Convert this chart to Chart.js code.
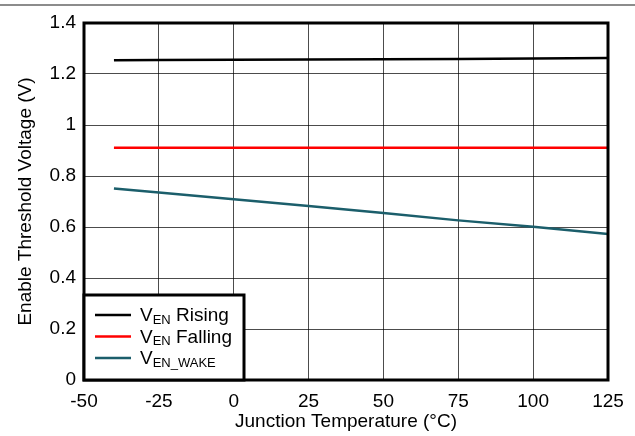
<!DOCTYPE html>
<html>
<head>
<meta charset="utf-8">
<script src="https://cdn.jsdelivr.net/npm/chart.js@4.4.1/dist/chart.umd.min.js"></script>
<style>
  html, body { margin: 0; padding: 0; background: #fff; }
  #wrap { position: relative; width: 635px; height: 436px; }
  #topline { position: absolute; left: 0; top: 4px; width: 635px; height: 2px; background: #8c8c8c; }
  canvas { display: block; }
</style>
</head>
<body>
<div id="wrap">
  <div id="topline"></div>
  <canvas id="chart" width="635" height="436"></canvas>
</div>
<script>
// temperatures (°C) and measured thresholds (V)
const temps = [-40, -25, 0, 25, 50, 75, 100, 125];
const rising = [1.254, 1.255, 1.256, 1.257, 1.258, 1.259, 1.261, 1.263];
const falling = [0.911, 0.911, 0.911, 0.911, 0.911, 0.911, 0.911, 0.911];
const wake = [0.751, 0.735, 0.709, 0.682, 0.655, 0.626, 0.601, 0.573];

const xTicks = ['-50', '-25', '0', '25', '50', '75', '100', '125'];
const yTicks = ['0', '0.2', '0.4', '0.6', '0.8', '1', '1.2', '1.4'];

const seriesColors = ['#000000', '#ff0000', '#1b5e6b'];
const legendMain = ['V', 'V', 'V'];
const legendSub = ['EN', 'EN', 'EN_WAKE'];
const legendRest = [' Rising', ' Falling', ''];

const FONT = '"Liberation Sans", Arial, sans-serif';

function pts(values) {
    return temps.map((t, i) => ({ x: t, y: values[i] }));
}

// frame round the plot + legend box in the lower left corner
const framePlugin = {
    id: 'frame',
    afterDraw(chart) {
        const ctx = chart.ctx;
        const a = chart.chartArea;
        ctx.save();
        ctx.strokeStyle = '#000';
        ctx.lineWidth = 3;
        ctx.strokeRect(a.left, a.top, a.right - a.left, a.bottom - a.top);

        const bw = 160, bh = 85;
        const bx = a.left, by = a.bottom - bh;
        ctx.fillStyle = '#fff';
        ctx.fillRect(bx, by, bw, bh);
        ctx.strokeRect(bx, by, bw, bh);

        legendMain.forEach((m, i) => {
            const y = by + 20 + i * 21.5;
            ctx.strokeStyle = seriesColors[i];
            ctx.lineWidth = 2.5;
            ctx.beginPath();
            ctx.moveTo(bx + 11, y);
            ctx.lineTo(bx + 47, y);
            ctx.stroke();

            ctx.fillStyle = '#000';
            ctx.textBaseline = 'middle';
            ctx.textAlign = 'left';
            let tx = bx + 56;
            ctx.font = '19px ' + FONT;
            ctx.fillText(m, tx, y + 1);
            tx += ctx.measureText(m).width;
            ctx.font = '13px ' + FONT;
            ctx.fillText(legendSub[i], tx, y + 5);
            tx += ctx.measureText(legendSub[i]).width;
            ctx.font = '19px ' + FONT;
            ctx.fillText(legendRest[i], tx, y + 1);
        });
        ctx.restore();
    }
};

new Chart(document.getElementById('chart'), {
    type: 'line',
    data: {
        datasets: [
            { label: 'VEN Rising', data: pts(rising), borderColor: seriesColors[0] },
            { label: 'VEN Falling', data: pts(falling), borderColor: seriesColors[1] },
            { label: 'VEN_WAKE', data: pts(wake), borderColor: seriesColors[2] }
        ].map(d => Object.assign(d, { borderWidth: 2.5, pointRadius: 0, fill: false, tension: 0 }))
    },
    options: {
        responsive: false,
        animation: false,
        layout: { padding: { left: 0, top: 23, right: 27, bottom: 0 } },
        plugins: { legend: { display: false }, tooltip: { enabled: false } },
        scales: {
            x: {
                type: 'linear',
                min: -50,
                max: 125,
                afterFit: s => { s.height = 56; },
                ticks: {
                    stepSize: 25,
                    padding: 10,
                    color: '#000',
                    font: { family: FONT, size: 19 },
                    maxRotation: 0,
                    callback: (v, i) => xTicks[i]
                },
                grid: { color: 'rgba(0,0,0,0.7)', lineWidth: 1, drawTicks: false },
                border: { display: false },
                title: {
                    display: true,
                    text: 'Junction Temperature (°C)',
                    color: '#000',
                    font: { family: FONT, size: 19 },
                    padding: { top: 0, bottom: 3 }
                }
            },
            y: {
                min: 0,
                max: 1.4,
                afterFit: s => { s.width = 84; },
                ticks: {
                    stepSize: 0.2,
                    padding: 8,
                    color: '#000',
                    font: { family: FONT, size: 19 },
                    callback: (v, i) => yTicks[i]
                },
                grid: { color: 'rgba(0,0,0,0.7)', lineWidth: 1, drawTicks: false },
                border: { display: false },
                title: {
                    display: true,
                    text: 'Enable Threshold Voltage (V)',
                    color: '#000',
                    font: { family: FONT, size: 19 },
                    padding: { top: 14, bottom: 0 }
                }
            }
        }
    },
    plugins: [framePlugin]
});
</script>
</body>
</html>
